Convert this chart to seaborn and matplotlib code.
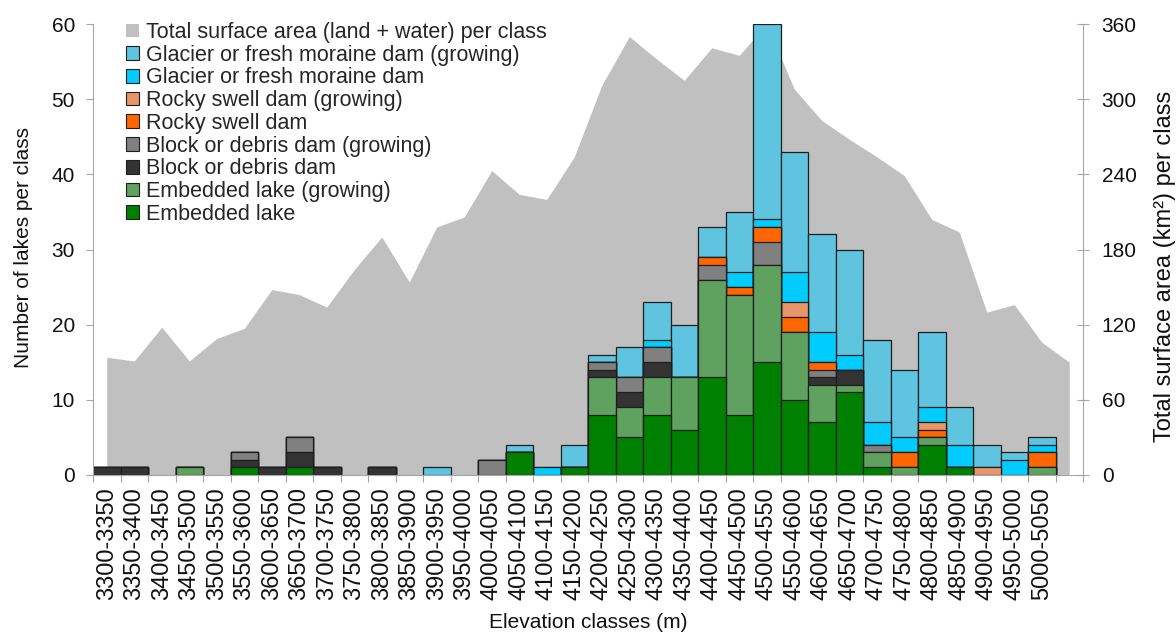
import numpy as np
import pandas as pd
import matplotlib
matplotlib.use("Agg")
import matplotlib.pyplot as plt
from matplotlib.patches import Patch
from matplotlib.ticker import FixedLocator, MultipleLocator
import seaborn as sns

sns.set_theme(style="white")
plt.rcParams["font.family"] = ["Liberation Sans", "DejaVu Sans"]

# Elevation classes (m)
classes = [
    "3300-3350", "3350-3400", "3400-3450", "3450-3500", "3500-3550",
    "3550-3600", "3600-3650", "3650-3700", "3700-3750", "3750-3800",
    "3800-3850", "3850-3900", "3900-3950", "3950-4000", "4000-4050",
    "4050-4100", "4100-4150", "4150-4200", "4200-4250", "4250-4300",
    "4300-4350", "4350-4400", "4400-4450", "4450-4500", "4500-4550",
    "4550-4600", "4600-4650", "4650-4700", "4700-4750", "4750-4800",
    "4800-4850", "4850-4900", "4900-4950", "4950-5000", "5000-5050",
]

# Number of lakes per class, by lake type
embedded = [0, 0, 0, 0, 0, 1, 0, 1, 0, 0, 0, 0, 0, 0, 0, 3, 0, 1, 8, 5,
            8, 6, 13, 8, 15, 10, 7, 11, 1, 0, 4, 1, 0, 0, 0]
embedded_growing = [0, 0, 0, 1, 0, 0, 0, 0, 0, 0, 0, 0, 0, 0, 0, 0, 0, 0, 5, 4,
                    5, 7, 13, 16, 13, 9, 5, 1, 2, 1, 1, 0, 0, 0, 1]
block = [1, 1, 0, 0, 0, 1, 1, 2, 1, 0, 1, 0, 0, 0, 0, 0, 0, 0, 1, 2,
         2, 0, 0, 0, 0, 0, 1, 2, 0, 0, 0, 0, 0, 0, 0]
block_growing = [0, 0, 0, 0, 0, 1, 0, 2, 0, 0, 0, 0, 0, 0, 2, 0, 0, 0, 1, 2,
                 2, 0, 2, 0, 3, 0, 1, 0, 1, 0, 0, 0, 0, 0, 0]
rocky = [0, 0, 0, 0, 0, 0, 0, 0, 0, 0, 0, 0, 0, 0, 0, 0, 0, 0, 0, 0,
         0, 0, 1, 1, 2, 2, 1, 0, 0, 2, 1, 0, 0, 0, 2]
rocky_growing = [0, 0, 0, 0, 0, 0, 0, 0, 0, 0, 0, 0, 0, 0, 0, 0, 0, 0, 0, 0,
                 0, 0, 0, 0, 0, 2, 0, 0, 0, 0, 1, 0, 1, 0, 0]
glacier = [0, 0, 0, 0, 0, 0, 0, 0, 0, 0, 0, 0, 0, 0, 0, 0, 1, 0, 0, 0,
           1, 0, 0, 2, 1, 4, 4, 2, 3, 2, 2, 3, 0, 2, 1]
glacier_growing = [0, 0, 0, 0, 0, 0, 0, 0, 0, 0, 0, 0, 1, 0, 0, 1, 0, 3, 1, 4,
                   5, 7, 4, 8, 26, 16, 13, 14, 11, 9, 10, 5, 3, 1, 1]

# Total surface area (land + water) per class, km² (one extra step past the last class)
surface_area = [94, 91, 118, 91, 109, 117, 148, 144, 134, 164, 190, 154,
                198, 206, 243, 224, 220, 254, 311, 350, 332, 315, 341, 335,
                360, 308, 283, 268, 254, 239, 204, 194, 130, 136, 106, 90]

series_labels = [
    "Glacier or fresh moraine dam (growing)",
    "Glacier or fresh moraine dam",
    "Rocky swell dam (growing)",
    "Rocky swell dam",
    "Block or debris dam (growing)",
    "Block or debris dam",
    "Embedded lake (growing)",
    "Embedded lake",
]
series_values = [glacier_growing, glacier, rocky_growing, rocky,
                 block_growing, block, embedded_growing, embedded]
series_colors = ["#5EC4E0", "#00CCFF", "#E8956A", "#FF6600",
                 "#808080", "#333333", "#5FA15F", "#008000"]
area_color = "#C0C0C0"
edge_color = "#1E1E1E"
axis_grey = "#A6A6A6"

order = classes + [""]

fig = plt.figure(figsize=(11.76, 6.33), dpi=100)
ax = fig.add_axes([93 / 1176, 1 - 475 / 633, 990 / 1176, 451 / 633])
ax2 = ax.twinx()

# Stacked bars: draw cumulative totals from the top layer downwards
stack = np.array(series_values[::-1])          # bottom layer first
cum = np.cumsum(stack, axis=0)                 # cumulative heights
for level in range(len(series_values) - 1, -1, -1):
    colour = series_colors[::-1][level]
    df = pd.DataFrame({"cls": classes, "n": cum[level]})
    df = df[df["n"] > 0]
    sns.barplot(data=df, x="cls", y="n", order=order, color=colour,
                saturation=1, width=1.0, edgecolor=edge_color, linewidth=0.9,
                errorbar=None, ax=ax)

# Surface-area profile on the secondary axis, behind the bars
ax2.fill_between(np.arange(len(surface_area)), surface_area,
                 color=area_color, linewidth=0)
ax.set_zorder(ax2.get_zorder() + 1)
ax.patch.set_visible(False)

ax.set_xlim(-0.5, len(order) - 0.5)
ax.set_ylim(0, 60)
ax2.set_ylim(0, 360)
ax.yaxis.set_major_locator(MultipleLocator(10))
ax2.yaxis.set_major_locator(MultipleLocator(60))

# Category labels centred on the bars, tick marks on the class boundaries
ax.xaxis.set_major_locator(FixedLocator(np.arange(len(classes))))
ax.set_xticklabels(classes, rotation=90, fontsize=17)
ax.xaxis.set_minor_locator(FixedLocator(np.arange(len(order) + 1) - 0.5))
ax.tick_params(axis="x", which="major", length=0, pad=9, labelcolor="#111111")
ax.tick_params(axis="x", which="minor", length=5, width=0.8, color=axis_grey,
               direction="out", bottom=True)
ax.tick_params(axis="y", length=5, width=0.8, color=axis_grey, direction="out",
               labelsize=15, pad=8, labelcolor="#111111", left=True)
ax2.tick_params(axis="y", length=9, width=0.8, color=axis_grey, direction="inout",
                labelsize=15, pad=9, labelcolor="#111111", right=True)

for s in ["top", "right"]:
    ax.spines[s].set_visible(False)
for s in ["left", "bottom"]:
    ax.spines[s].set_color(axis_grey)
    ax.spines[s].set_linewidth(0.8)
for s in ["top", "left", "bottom"]:
    ax2.spines[s].set_visible(False)
ax2.spines["right"].set_color(axis_grey)
ax2.spines["right"].set_linewidth(0.8)

ax.set_xlabel("Elevation classes (m)", fontsize=15, color="#111111")
ax.xaxis.set_label_coords(0.5, -0.305)
ax.set_ylabel("Number of lakes per class", fontsize=15, color="#111111")
ax.yaxis.set_label_coords(-0.061, 0.505)
ax2.set_ylabel("Total surface area (km²) per class", fontsize=17, color="#111111")
ax2.yaxis.set_label_coords(1.072, 0.463)

handles = [Patch(facecolor=area_color, edgecolor="none",
                 label="Total surface area (land + water) per class")]
handles += [Patch(facecolor=c, edgecolor=edge_color, linewidth=0.8, label=l)
            for c, l in zip(series_colors, series_labels)]
fig.legend(handles=handles, loc="upper left",
           bbox_to_anchor=(126 / 1176, 1 - 22 / 633),
           frameon=False, fontsize=15.5, handlelength=0.6, handleheight=0.6,
           handletextpad=0.35, labelspacing=0.08, borderpad=0, borderaxespad=0)

fig.savefig("out.png", dpi=100)
